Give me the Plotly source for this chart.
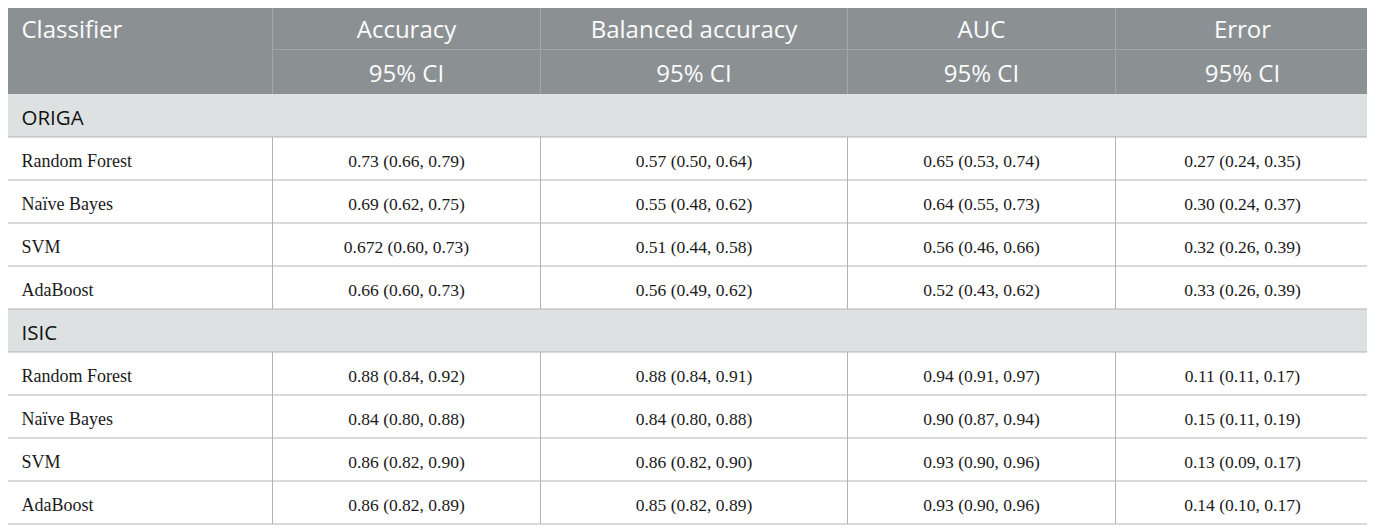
import plotly.graph_objects as go

# ---------------- data ----------------
metrics = ["Accuracy", "Balanced accuracy", "AUC", "Error"]
ci_label = "95% CI"
first_header = "Classifier"
datasets = ["ORIGA", "ISIC"]
classifiers = ["Random Forest", "Naïve Bayes", "SVM", "AdaBoost"]

origa_accuracy = ["0.73 (0.66, 0.79)", "0.69 (0.62, 0.75)", "0.672 (0.60, 0.73)", "0.66 (0.60, 0.73)"]
origa_balanced = ["0.57 (0.50, 0.64)", "0.55 (0.48, 0.62)", "0.51 (0.44, 0.58)", "0.56 (0.49, 0.62)"]
origa_auc = ["0.65 (0.53, 0.74)", "0.64 (0.55, 0.73)", "0.56 (0.46, 0.66)", "0.52 (0.43, 0.62)"]
origa_error = ["0.27 (0.24, 0.35)", "0.30 (0.24, 0.37)", "0.32 (0.26, 0.39)", "0.33 (0.26, 0.39)"]

isic_accuracy = ["0.88 (0.84, 0.92)", "0.84 (0.80, 0.88)", "0.86 (0.82, 0.90)", "0.86 (0.82, 0.89)"]
isic_balanced = ["0.88 (0.84, 0.91)", "0.84 (0.80, 0.88)", "0.86 (0.82, 0.90)", "0.85 (0.82, 0.89)"]
isic_auc = ["0.94 (0.91, 0.97)", "0.90 (0.87, 0.94)", "0.93 (0.90, 0.96)", "0.93 (0.90, 0.96)"]
isic_error = ["0.11 (0.11, 0.17)", "0.15 (0.11, 0.19)", "0.13 (0.09, 0.17)", "0.14 (0.10, 0.17)"]

dataset_values = {
    "ORIGA": [origa_accuracy, origa_balanced, origa_auc, origa_error],
    "ISIC": [isic_accuracy, isic_balanced, isic_auc, isic_error],
}

# ---------------- layout / style ----------------
W, H = 1375, 529
PAGE_OFFSET = 8  # default body margin of the html page
col_edges = [4.5, 272.5, 540.5, 847.5, 1115.5, 1369.5]
top = 5.0
head_h = 44.5
row_h = 43.0
header_fill = "#8b9193"
header_line = "#a1a6a8"
section_fill = "#dee1e1"
grid = "#b3b3b3"
sans = "Open Sans"
serif = "Liberation Serif"
sans_dy = 4.5
serif_dy = 4.0

rows = [("header1", None), ("header2", None)]
for ds in datasets:
    rows.append(("section", ds))
    for i, c in enumerate(classifiers):
        rows.append(("data", (ds, i)))

def ry(i):
    if i <= 2:
        return top + i * head_h
    return top + 2 * head_h + (i - 2) * row_h

def rc(i):
    return (ry(i) + ry(i + 1)) / 2

shapes = []
shapes.append(dict(type="rect", xref="x", yref="y", x0=col_edges[0], x1=col_edges[-1],
                   y0=ry(0), y1=ry(2), fillcolor=header_fill, line=dict(width=0), layer="below"))
for xe in col_edges[1:-1]:
    shapes.append(dict(type="line", xref="x", yref="y", x0=xe, x1=xe, y0=ry(0), y1=ry(2),
                       line=dict(color=header_line, width=1)))
shapes.append(dict(type="line", xref="x", yref="y", x0=col_edges[1], x1=col_edges[-1],
                   y0=ry(1), y1=ry(1), line=dict(color=header_line, width=1)))

for ri, (kind, info) in enumerate(rows):
    if kind == "section":
        shapes.append(dict(type="rect", xref="x", yref="y", x0=col_edges[0], x1=col_edges[-1],
                           y0=ry(ri), y1=ry(ri + 1), fillcolor=section_fill, line=dict(width=0),
                           layer="below"))
    elif kind == "data":
        for xe in col_edges[1:-1]:
            shapes.append(dict(type="line", xref="x", yref="y", x0=xe, x1=xe, y0=ry(ri), y1=ry(ri + 1),
                               line=dict(color=grid, width=1)))
    if ri >= 3:
        shapes.append(dict(type="line", xref="x", yref="y", x0=col_edges[0], x1=col_edges[-1],
                           y0=ry(ri), y1=ry(ri), line=dict(color=grid, width=1)))
nrows = len(rows)
shapes.append(dict(type="rect", xref="x", yref="y", x0=col_edges[0], x1=col_edges[-1],
                   y0=ry(0) - 0.5, y1=ry(nrows), line=dict(color=grid, width=1)))

fig = go.Figure()

def centers(c):
    return (col_edges[c] + col_edges[c + 1]) / 2

left_pad = 17
hdr_font = dict(family=sans, size=24, color="#fbfbfb")
fig.add_trace(go.Scatter(x=[col_edges[0] + left_pad], y=[rc(0) + sans_dy], mode="text", text=[first_header],
                         textposition="middle right", textfont=hdr_font, hoverinfo="skip"))
fig.add_trace(go.Scatter(x=[centers(c + 1) for c in range(len(metrics))], y=[rc(0) + sans_dy] * len(metrics),
                         mode="text", text=metrics, textposition="middle center",
                         textfont=hdr_font, hoverinfo="skip"))
fig.add_trace(go.Scatter(x=[centers(c + 1) for c in range(len(metrics))], y=[rc(1) + sans_dy] * len(metrics),
                         mode="text", text=[ci_label] * len(metrics), textposition="middle center",
                         textfont=hdr_font, hoverinfo="skip"))

sec_x, sec_y, sec_t = [], [], []
name_x, name_y, name_t = [], [], []
val_x, val_y, val_t = [], [], []
for ri, (kind, info) in enumerate(rows):
    if kind == "section":
        sec_x.append(col_edges[0] + left_pad); sec_y.append(rc(ri) + sans_dy); sec_t.append(info)
    elif kind == "data":
        ds, i = info
        yc = rc(ri) + serif_dy
        name_x.append(col_edges[0] + left_pad); name_y.append(yc); name_t.append(classifiers[i])
        for m in range(len(metrics)):
            val_x.append(centers(m + 1)); val_y.append(yc); val_t.append(dataset_values[ds][m][i])

fig.add_trace(go.Scatter(x=sec_x, y=sec_y, mode="text", text=sec_t, textposition="middle right",
                         textfont=dict(family=sans, size=20.5, color="#111111"), hoverinfo="skip"))
fig.add_trace(go.Scatter(x=name_x, y=name_y, mode="text", text=name_t, textposition="middle right",
                         textfont=dict(family=serif, size=18, color="#1a1a1a"), hoverinfo="skip"))
fig.add_trace(go.Scatter(x=val_x, y=val_y, mode="text", text=val_t, textposition="middle center",
                         textfont=dict(family=serif, size=17.5, color="#1a1a1a"), hoverinfo="skip"))

fig.update_layout(
    width=W, height=H, margin=dict(l=0, r=0, t=0, b=0),
    paper_bgcolor="white", plot_bgcolor="white", showlegend=False, shapes=shapes,
    xaxis=dict(range=[PAGE_OFFSET, W + PAGE_OFFSET], visible=False, fixedrange=True),
    yaxis=dict(range=[H + PAGE_OFFSET, PAGE_OFFSET], visible=False, fixedrange=True),
)
fig.write_html("out.html", config={"displayModeBar": False})
